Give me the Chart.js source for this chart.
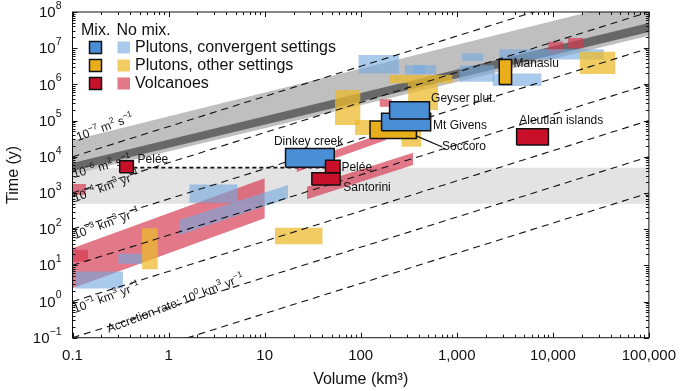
<!DOCTYPE html>
<html>
<head>
<meta charset="utf-8">
<script src="https://cdn.jsdelivr.net/npm/chart.js@4.4.1/dist/chart.umd.min.js"></script>
<style>
  html, body { margin: 0; padding: 0; background: #fff; }
</style>
</head>
<body>
<canvas id="chart" width="685" height="391"></canvas>
<script>
const FONT = '"Liberation Sans", Arial, sans-serif';

// axes
const volumeTicks = [0.1, 1, 10, 100, 1000, 10000, 100000];
const volumeTickLabels = ['0.1', '1', '10', '100', '1,000', '10,000', '100,000'];
const timeTickExponents = [-1, 0, 1, 2, 3, 4, 5, 6, 7, 8];

// background bands
const eruptionBandTime = [500, 5000];
const diffusionVol = [0.1, 100000];
const lightBandTop = [28800, 2.57e8];
const lightBandBottom = [3240, 2.19e7];
const darkBandTop = [6760, 5.0e7];
const darkBandBottom = [4070, 2.82e7];

// accretion-rate lines (10^-5 ... 10^1 km3/yr), time at V = 0.1 and V = 100,000
const accretionTimeAtMinVol = [1e4, 1e3, 1e2, 1e1, 1, 0.1, 0.01];
const accretionTimeAtMaxVol = [1e9, 1e8, 1e7, 1e6, 1e5, 1e4, 1e3];

// Pelée dashed link
const peleeLinkVol = [0.43, 43];
const peleeLinkTime = 5000;

// No mix: rectangles
const noMixGroup = ['volcano', 'volcano', 'volcano', 'volcano', 'volcano',
  'convergent', 'convergent', 'convergent', 'convergent', 'convergent', 'convergent', 'convergent', 'convergent', 'convergent', 'convergent',
  'other', 'other', 'other', 'other', 'other', 'other', 'other', 'other'];
const noMixVolMin = [0.1, 0.1, 158, 8980, 14400,
  0.107, 0.3, 1.65, 95, 288, 352, 1130, 1070, 2370, 2770,
  0.53, 12.8, 54, 87.5, 200, 312, 266, 19100];
const noMixVolMax = [0.138, 0.145, 210, 12800, 20700,
  0.335, 0.54, 5.2, 250, 608, 465, 1890, 2460, 7600, 33900,
  0.77, 40, 99, 125, 900, 637, 427, 44700];
const noMixTimeMin = [880, 12.6, 2.4e5, 7.5e6, 9.9e6,
  2.3, 11, 540, 2.0e6, 1.9e6, 2.0e6, 4.4e6, 1.19e6, 9e5, 4.9e6,
  7.8, 38, 7.5e4, 4e4, 1.07e6, 1.96e5, 1.9e4, 1.94e6];
const noMixTimeMax = [1780, 27, 3.9e5, 1.5e7, 1.9e7,
  6.7, 21, 1700, 6.5e6, 3.4e6, 3.4e6, 7.2e6, 3.4e6, 2.0e6, 9.3e6,
  106, 110, 7e5, 1.04e5, 1.82e6, 1.07e6, 5.5e4, 8e6];

// No mix: slanted bands
const slantGroup = ['volcano', 'volcano', 'volcano', 'convergent'];
const slantVolMin = [0.1, 27.6, 21.6, 1.3];
const slantVolMax = [10, 351, 184, 17.5];
const slantTopStart = [29.6, 1490, 6300, 180];
const slantTopEnd = [2550, 13000, 48400, 1660];
const slantBottomStart = [2.33, 670, 3800, 69];
const slantBottomEnd = [200, 5900, 29100, 700];

// Mix: outlined boxes
const mixNames = ['Pelée', 'Dinkey creek', 'Santorini', 'Pelée', 'Soccoro', 'Mt Givens', 'Geyser plut.', 'Manaslu', 'Aleutian islands'];
const mixGroup = ['volcano', 'convergent', 'volcano', 'volcano', 'other', 'convergent', 'convergent', 'other', 'volcano'];
const mixVolMin = [0.31, 16.5, 31, 43, 125, 165, 200, 2770, 4200];
const mixVolMax = [0.43, 53, 61, 61, 380, 535, 520, 3720, 9000];
const mixTimeMin = [3600, 5100, 1650, 3600, 3.2e4, 5.2e4, 1.1e5, 1.0e6, 2.1e4];
const mixTimeMax = [7800, 17000, 3600, 8000, 9.8e4, 1.6e5, 3.3e5, 4.9e6, 5.9e4];

// label anchors (left end of text, vertical middle)
const mixLabelVol = [0.476, 12.5, 66, 63, 702, 566, 540, 3900, 4470];
const mixLabelTime = [8170, 25600, 1374, 4910, 19300, 71000, 395000, 3.66e6, 1.0e5];
const soccoroLeaderVol = [378, 708];
const soccoroLeaderTime = [3.76e4, 1.86e4];

const COLORS = {
  convergent: { mix: '#4a8fd6', noMix: 'rgba(118,170,224,0.62)' },
  other: { mix: '#e8ae1c', noMix: 'rgba(236,186,44,0.74)' },
  volcano: { mix: '#c8102b', noMix: 'rgba(214,58,80,0.68)' }
};

const legendRows = [
  ['convergent', 'Plutons, convergent settings'],
  ['other', 'Plutons, other settings'],
  ['volcano', 'Volcanoes']
];

// rotated line labels: [volume, time, angle, parts]
const lineLabels = [
  [0.114, 27300, -20, [['10'], ['−7', 1], [' m'], ['2', 1], [' s'], ['−1', 1]]],
  [0.1036, 2590, -15, [['10'], ['−6', 1], [' m'], ['2', 1], [' s'], ['−1', 1]]],
  [0.106, 564, -20, [['10'], ['−4', 1], [' km'], ['3', 1], [' yr'], ['−1', 1]]],
  [0.106, 53.6, -20, [['10'], ['−3', 1], [' km'], ['3', 1], [' yr'], ['−1', 1]]],
  [0.106, 0.484, -20, [['10'], ['−1', 1], [' km'], ['3', 1], [' yr'], ['−1', 1]]],
  [0.239, 0.136, -21, [['Accretion rate: 10'], ['0', 1], [' km'], ['3', 1], [' yr'], ['−1', 1]]]
];

function quad(v0, v1, top0, top1, bot0, bot1) {
  return [
    { x: v0, y: bot0 }, { x: v0, y: top0 }, { x: v1, y: top1 }, { x: v1, y: bot1 }, { x: v0, y: bot0 }
  ];
}

const datasets = [];
let seq = 0;

function addShape(points, fill, border, width) {
  datasets.push({
    data: points,
    fill: 'shape',
    backgroundColor: fill,
    borderColor: border || 'rgba(0,0,0,0)',
    borderWidth: width || 0,
    pointRadius: 0,
    tension: 0,
    order: -(seq++)
  });
}

function addLine(points, dash, width) {
  datasets.push({
    data: points,
    fill: false,
    borderColor: '#111',
    borderWidth: width,
    borderDash: dash,
    pointRadius: 0,
    tension: 0,
    order: -(seq++)
  });
}

addShape(quad(0.1, 100000, eruptionBandTime[1], eruptionBandTime[1], eruptionBandTime[0], eruptionBandTime[0]), '#e3e3e3');
addShape(quad(diffusionVol[0], diffusionVol[1], lightBandTop[0], lightBandTop[1], lightBandBottom[0], lightBandBottom[1]), '#bfbfbf');
addShape(quad(diffusionVol[0], diffusionVol[1], darkBandTop[0], darkBandTop[1], darkBandBottom[0], darkBandBottom[1]), '#686868');

['volcano', 'convergent', 'other'].forEach(g => {
  slantGroup.forEach((sg, i) => {
    if (sg !== g) return;
    addShape(quad(slantVolMin[i], slantVolMax[i], slantTopStart[i], slantTopEnd[i], slantBottomStart[i], slantBottomEnd[i]), COLORS[g].noMix);
  });
  noMixGroup.forEach((ng, i) => {
    if (ng !== g) return;
    addShape(quad(noMixVolMin[i], noMixVolMax[i], noMixTimeMax[i], noMixTimeMax[i], noMixTimeMin[i], noMixTimeMin[i]), COLORS[g].noMix);
  });
});

accretionTimeAtMinVol.forEach((t0, i) => {
  addLine([{ x: 0.1, y: t0 }, { x: 100000, y: accretionTimeAtMaxVol[i] }], [7, 5], 1.1);
});
addLine([{ x: peleeLinkVol[0], y: peleeLinkTime }, { x: peleeLinkVol[1], y: peleeLinkTime }], [4, 3], 1.8);
const labelHookIndex = datasets.length - 1;

mixGroup.forEach((g, i) => {
  addShape(quad(mixVolMin[i], mixVolMax[i], mixTimeMax[i], mixTimeMax[i], mixTimeMin[i], mixTimeMin[i]), COLORS[g].mix, '#111', 1.5);
});

function drawRich(ctx, x, y, parts, size, angle) {
  ctx.save();
  ctx.translate(x, y);
  ctx.rotate(angle * Math.PI / 180);
  ctx.textBaseline = 'alphabetic';
  ctx.textAlign = 'left';
  let cx = 0;
  for (const [txt, sup] of parts) {
    ctx.font = `${sup ? size * 0.7 : size}px ${FONT}`;
    ctx.fillText(txt, cx, sup ? -size * 0.42 : 0);
    cx += ctx.measureText(txt).width;
  }
  ctx.restore();
}

const decorations = {
  id: 'decorations',
  afterDatasetDraw(chart, args) {
    if (args.index !== labelHookIndex) return;
    const { ctx, scales: { x, y } } = chart;
    ctx.save();
    ctx.fillStyle = '#111';
    lineLabels.forEach(([v, t, angle, parts]) => {
      drawRich(ctx, x.getPixelForValue(v), y.getPixelForValue(t), parts, 12, angle);
    });
    ctx.restore();
  },
  afterDatasetsDraw(chart) {
    const { ctx, chartArea: a, scales: { x, y } } = chart;
    ctx.save();

    // frame
    ctx.strokeStyle = '#111';
    ctx.lineWidth = 1;
    ctx.strokeRect(a.left, a.top, a.right - a.left, a.bottom - a.top);

    // inward ticks
    ctx.beginPath();
    for (let e = -1; e <= 5; e++) {
      for (let k = 1; k <= 9; k++) {
        const v = k * Math.pow(10, e);
        if (v > 100000 * 1.0001) break;
        const px = Math.round(x.getPixelForValue(v)) + 0.5;
        const len = k === 1 ? 5 : 3;
        ctx.moveTo(px, a.bottom); ctx.lineTo(px, a.bottom - len);
        ctx.moveTo(px, a.top); ctx.lineTo(px, a.top + len);
      }
    }
    for (let e = -1; e <= 8; e++) {
      for (let k = 1; k <= 9; k++) {
        const v = k * Math.pow(10, e);
        if (v > 1e8 * 1.0001) break;
        const py = Math.round(y.getPixelForValue(v)) + 0.5;
        const len = k === 1 ? 5 : 3;
        ctx.moveTo(a.left, py); ctx.lineTo(a.left + len, py);
        ctx.moveTo(a.right, py); ctx.lineTo(a.right - len, py);
      }
    }
    ctx.stroke();

    // y tick labels with superscript exponents
    ctx.fillStyle = '#111';
    ctx.textBaseline = 'middle';
    timeTickExponents.forEach(e => {
      const py = y.getPixelForValue(Math.pow(10, e));
      const expText = e < 0 ? '−' + (-e) : String(e);
      ctx.font = `10.5px ${FONT}`;
      const ew = ctx.measureText(expText).width;
      ctx.textAlign = 'left';
      const right = a.left - 11;
      ctx.fillText(expText, right - ew, py - 6);
      ctx.font = `15px ${FONT}`;
      ctx.textAlign = 'right';
      ctx.fillText('10', right - ew, py + 1);
    });

    // box labels
    ctx.font = `12px ${FONT}`;
    ctx.textAlign = 'left';
    ctx.textBaseline = 'middle';
    mixNames.forEach((name, i) => {
      ctx.fillText(name, x.getPixelForValue(mixLabelVol[i]), y.getPixelForValue(mixLabelTime[i]));
    });
    ctx.beginPath();
    ctx.lineWidth = 1.3;
    ctx.moveTo(x.getPixelForValue(soccoroLeaderVol[0]), y.getPixelForValue(soccoroLeaderTime[0]));
    ctx.lineTo(x.getPixelForValue(soccoroLeaderVol[1]), y.getPixelForValue(soccoroLeaderTime[1]));
    ctx.stroke();

    // legend
    ctx.font = `16px ${FONT}`;
    ctx.textBaseline = 'alphabetic';
    ctx.fillText('Mix.', a.left + 8.5, 34.5);
    ctx.fillText('No mix.', a.left + 44, 34.5);
    ctx.textBaseline = 'middle';
    legendRows.forEach(([g, text], i) => {
      const cy = 47.5 + i * 18;
      ctx.fillStyle = COLORS[g].mix;
      ctx.fillRect(a.left + 17, cy - 6, 12, 12);
      ctx.lineWidth = 1.5;
      ctx.strokeStyle = '#111';
      ctx.strokeRect(a.left + 17, cy - 6, 12, 12);
      ctx.fillStyle = COLORS[g].noMix;
      ctx.fillRect(a.left + 45, cy - 6, 12.5, 12);
      ctx.fillStyle = '#111';
      ctx.fillText(text, a.left + 62.5, cy + 0.5);
    });

    ctx.restore();
  }
};

new Chart(document.getElementById('chart'), {
  type: 'line',
  data: { datasets },
  options: {
    responsive: false,
    animation: false,
    events: [],
    layout: { padding: { top: 12, right: 29.3, bottom: 0, left: 0 } },
    plugins: { legend: { display: false }, tooltip: { enabled: false } },
    scales: {
      x: {
        type: 'logarithmic',
        min: 0.1,
        max: 100000,
        grid: { display: false, drawTicks: false },
        border: { display: false },
        afterBuildTicks: (s) => { s.ticks = volumeTicks.map(v => ({ value: v })); },
        afterFit: (s) => { s.height = 53.3; },
        ticks: {
          color: '#111',
          font: { family: FONT, size: 15 },
          padding: 9,
          maxRotation: 0,
          autoSkip: false,
          callback: (v, i) => volumeTickLabels[i]
        },
        title: {
          display: true,
          text: 'Volume (km³)',
          color: '#111',
          font: { family: FONT, size: 16 },
          padding: { top: 0, bottom: 1.4 }
        }
      },
      y: {
        type: 'logarithmic',
        min: 0.1,
        max: 1e8,
        grid: { display: false, drawTicks: false },
        border: { display: false },
        ticks: { display: false },
        afterFit: (s) => { s.width = 72.5; },
        title: {
          display: true,
          text: 'Time (y)',
          color: '#111',
          font: { family: FONT, size: 16 },
          padding: { top: 4.4, bottom: 0 }
        }
      }
    }
  },
  plugins: [decorations]
});
</script>
</body>
</html>
